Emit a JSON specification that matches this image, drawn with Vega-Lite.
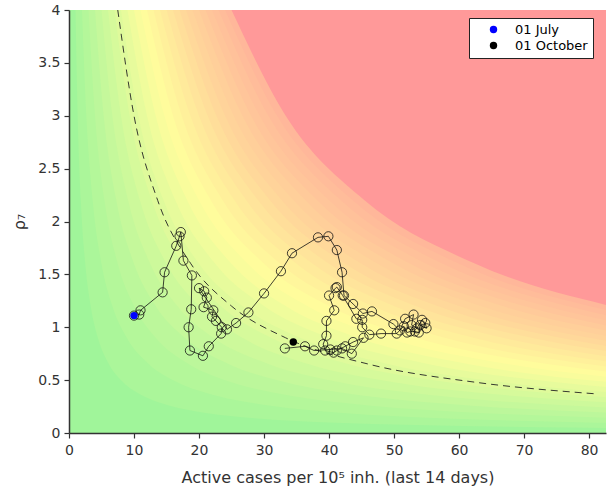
{
  "$schema": "https://vega.github.io/schema/vega-lite/v6.json",
  "autosize": {"type": "none"},
  "padding": {"left": 69, "top": 10, "right": 1, "bottom": 55},
  "width": 537,
  "height": 423,
  "title": {"text": "Risk diagram", "fontSize": 15, "fontWeight": "bold", "font": "DejaVu Sans", "anchor": "middle", "frame": "group", "offset": 0, "baseline": "bottom", "dy": 2, "color": "#222"},
  "config": {
    "view": {"stroke": null, "fill": "#a0f59a"},
    "axis": {"labelFont": "DejaVu Sans", "labelFontSize": 14, "labelColor": "#333", "titleFont": "DejaVu Sans", "titleFontSize": 16, "titleFontWeight": "normal", "titleColor": "#333", "domainColor": "#333", "domainWidth": 1.5, "tickColor": "#333", "tickSize": 5, "tickWidth": 1.2, "grid": false}
  },
  "datasets": {
    "bg": [
      {"c":4,"x":1,"y":4},{"c":4,"x":1.333,"y":3},{"c":4,"x":1.818,"y":2.2},{"c":4,"x":2.5,"y":1.6},{"c":4,"x":3.333,"y":1.2},{"c":4,"x":4.444,"y":0.9},{"c":4,"x":6.154,"y":0.65},{"c":4,"x":8.333,"y":0.48},{"c":4,"x":11.43,"y":0.35},{"c":4,"x":15.38,"y":0.26},{"c":4,"x":21.05,"y":0.19},{"c":4,"x":28.57,"y":0.14},{"c":4,"x":40,"y":0.1},{"c":4,"x":53.33,"y":0.075},{"c":4,"x":72.73,"y":0.055},{"c":4,"x":83,"y":0.0482},
      {"c":8,"x":2,"y":4},{"c":8,"x":2.667,"y":3},{"c":8,"x":3.636,"y":2.2},{"c":8,"x":5,"y":1.6},{"c":8,"x":6.667,"y":1.2},{"c":8,"x":8.889,"y":0.9},{"c":8,"x":12.31,"y":0.65},{"c":8,"x":16.67,"y":0.48},{"c":8,"x":22.86,"y":0.35},{"c":8,"x":30.77,"y":0.26},{"c":8,"x":42.11,"y":0.19},{"c":8,"x":57.14,"y":0.14},{"c":8,"x":80,"y":0.1},{"c":8,"x":83,"y":0.0964},
      {"c":12,"x":3,"y":4},{"c":12,"x":4,"y":3},{"c":12,"x":5.455,"y":2.2},{"c":12,"x":7.5,"y":1.6},{"c":12,"x":10,"y":1.2},{"c":12,"x":13.33,"y":0.9},{"c":12,"x":18.46,"y":0.65},{"c":12,"x":25,"y":0.48},{"c":12,"x":34.29,"y":0.35},{"c":12,"x":46.15,"y":0.26},{"c":12,"x":63.16,"y":0.19},{"c":12,"x":83,"y":0.1446},
      {"c":16,"x":4,"y":4},{"c":16,"x":5.333,"y":3},{"c":16,"x":7.273,"y":2.2},{"c":16,"x":10,"y":1.6},{"c":16,"x":13.33,"y":1.2},{"c":16,"x":17.78,"y":0.9},{"c":16,"x":24.62,"y":0.65},{"c":16,"x":33.33,"y":0.48},{"c":16,"x":45.71,"y":0.35},{"c":16,"x":61.54,"y":0.26},{"c":16,"x":83,"y":0.1928},
      {"c":20,"x":5,"y":4},{"c":20,"x":6.667,"y":3},{"c":20,"x":9.091,"y":2.2},{"c":20,"x":12.5,"y":1.6},{"c":20,"x":16.67,"y":1.2},{"c":20,"x":22.22,"y":0.9},{"c":20,"x":30.77,"y":0.65},{"c":20,"x":41.67,"y":0.48},{"c":20,"x":57.14,"y":0.35},{"c":20,"x":76.92,"y":0.26},{"c":20,"x":83,"y":0.241},
      {"c":24,"x":6,"y":4},{"c":24,"x":8,"y":3},{"c":24,"x":10.91,"y":2.2},{"c":24,"x":15,"y":1.6},{"c":24,"x":20,"y":1.2},{"c":24,"x":26.67,"y":0.9},{"c":24,"x":36.92,"y":0.65},{"c":24,"x":50,"y":0.48},{"c":24,"x":68.57,"y":0.35},{"c":24,"x":83,"y":0.2892},
      {"c":28,"x":7,"y":4},{"c":28,"x":9.333,"y":3},{"c":28,"x":12.73,"y":2.2},{"c":28,"x":17.5,"y":1.6},{"c":28,"x":23.33,"y":1.2},{"c":28,"x":31.11,"y":0.9},{"c":28,"x":43.08,"y":0.65},{"c":28,"x":58.33,"y":0.48},{"c":28,"x":80,"y":0.35},{"c":28,"x":83,"y":0.3373},
      {"c":32,"x":8,"y":4},{"c":32,"x":10.67,"y":3},{"c":32,"x":14.55,"y":2.2},{"c":32,"x":20,"y":1.6},{"c":32,"x":26.67,"y":1.2},{"c":32,"x":35.56,"y":0.9},{"c":32,"x":49.23,"y":0.65},{"c":32,"x":66.67,"y":0.48},{"c":32,"x":83,"y":0.3855},
      {"c":36,"x":9,"y":4},{"c":36,"x":12,"y":3},{"c":36,"x":16.36,"y":2.2},{"c":36,"x":22.5,"y":1.6},{"c":36,"x":30,"y":1.2},{"c":36,"x":40,"y":0.9},{"c":36,"x":55.38,"y":0.65},{"c":36,"x":75,"y":0.48},{"c":36,"x":83,"y":0.4337},
      {"c":40,"x":10,"y":4},{"c":40,"x":13.33,"y":3},{"c":40,"x":18.18,"y":2.2},{"c":40,"x":25,"y":1.6},{"c":40,"x":33.33,"y":1.2},{"c":40,"x":44.44,"y":0.9},{"c":40,"x":61.54,"y":0.65},{"c":40,"x":83,"y":0.4819},
      {"c":44,"x":11,"y":4},{"c":44,"x":14.67,"y":3},{"c":44,"x":20,"y":2.2},{"c":44,"x":27.5,"y":1.6},{"c":44,"x":36.67,"y":1.2},{"c":44,"x":48.89,"y":0.9},{"c":44,"x":67.69,"y":0.65},{"c":44,"x":83,"y":0.5301},
      {"c":48,"x":12,"y":4},{"c":48,"x":16,"y":3},{"c":48,"x":21.82,"y":2.2},{"c":48,"x":30,"y":1.6},{"c":48,"x":40,"y":1.2},{"c":48,"x":53.33,"y":0.9},{"c":48,"x":73.85,"y":0.65},{"c":48,"x":83,"y":0.5783},
      {"c":52,"x":13,"y":4},{"c":52,"x":17.33,"y":3},{"c":52,"x":23.64,"y":2.2},{"c":52,"x":32.5,"y":1.6},{"c":52,"x":43.33,"y":1.2},{"c":52,"x":57.78,"y":0.9},{"c":52,"x":80,"y":0.65},{"c":52,"x":83,"y":0.6265},
      {"c":56,"x":14,"y":4},{"c":56,"x":18.67,"y":3},{"c":56,"x":25.45,"y":2.2},{"c":56,"x":35,"y":1.6},{"c":56,"x":46.67,"y":1.2},{"c":56,"x":62.22,"y":0.9},{"c":56,"x":83,"y":0.6747},
      {"c":60,"x":15,"y":4},{"c":60,"x":20,"y":3},{"c":60,"x":27.27,"y":2.2},{"c":60,"x":37.5,"y":1.6},{"c":60,"x":50,"y":1.2},{"c":60,"x":66.67,"y":0.9},{"c":60,"x":83,"y":0.7229},
      {"c":64,"x":16,"y":4},{"c":64,"x":21.33,"y":3},{"c":64,"x":29.09,"y":2.2},{"c":64,"x":40,"y":1.6},{"c":64,"x":53.33,"y":1.2},{"c":64,"x":71.11,"y":0.9},{"c":64,"x":83,"y":0.7711},
      {"c":68,"x":17,"y":4},{"c":68,"x":22.67,"y":3},{"c":68,"x":30.91,"y":2.2},{"c":68,"x":42.5,"y":1.6},{"c":68,"x":56.67,"y":1.2},{"c":68,"x":75.56,"y":0.9},{"c":68,"x":83,"y":0.8193},
      {"c":72,"x":18,"y":4},{"c":72,"x":24,"y":3},{"c":72,"x":32.73,"y":2.2},{"c":72,"x":45,"y":1.6},{"c":72,"x":60,"y":1.2},{"c":72,"x":80,"y":0.9},{"c":72,"x":83,"y":0.8675},
      {"c":76,"x":19,"y":4},{"c":76,"x":25.33,"y":3},{"c":76,"x":34.55,"y":2.2},{"c":76,"x":47.5,"y":1.6},{"c":76,"x":63.33,"y":1.2},{"c":76,"x":83,"y":0.9157},
      {"c":80,"x":20,"y":4},{"c":80,"x":26.67,"y":3},{"c":80,"x":36.36,"y":2.2},{"c":80,"x":50,"y":1.6},{"c":80,"x":66.67,"y":1.2},{"c":80,"x":83,"y":0.9639},
      {"c":84,"x":21,"y":4},{"c":84,"x":28,"y":3},{"c":84,"x":38.18,"y":2.2},{"c":84,"x":52.5,"y":1.6},{"c":84,"x":70,"y":1.2},{"c":84,"x":83,"y":1.012},
      {"c":88,"x":22,"y":4},{"c":88,"x":29.33,"y":3},{"c":88,"x":40,"y":2.2},{"c":88,"x":55,"y":1.6},{"c":88,"x":73.33,"y":1.2},{"c":88,"x":83,"y":1.06},
      {"c":92,"x":23,"y":4},{"c":92,"x":30.67,"y":3},{"c":92,"x":41.82,"y":2.2},{"c":92,"x":57.5,"y":1.6},{"c":92,"x":76.67,"y":1.2},{"c":92,"x":83,"y":1.108},
      {"c":96,"x":24,"y":4},{"c":96,"x":32,"y":3},{"c":96,"x":43.64,"y":2.2},{"c":96,"x":60,"y":1.6},{"c":96,"x":80,"y":1.2},{"c":96,"x":83,"y":1.157},
      {"c":100,"x":25,"y":4},{"c":100,"x":33.33,"y":3},{"c":100,"x":45.45,"y":2.2},{"c":100,"x":62.5,"y":1.6},{"c":100,"x":83,"y":1.205}
    ],
    "epg30": [
      {"x":7.5,"y":4},{"x":10,"y":3},{"x":13.64,"y":2.2},{"x":18.75,"y":1.6},{"x":25,"y":1.2},{"x":33.33,"y":0.9},{"x":46.15,"y":0.65},{"x":62.5,"y":0.48},{"x":81,"y":0.3704}
    ],
    "traj": [
      {"d":1,"x":10.0,"y":1.11},{"d":2,"x":10.8,"y":1.12},{"d":3,"x":11.0,"y":1.16},{"d":4,"x":14.4,"y":1.33},{"d":5,"x":14.7,"y":1.52},
      {"d":6,"x":16.5,"y":1.77},{"d":7,"x":17.0,"y":1.86},{"d":8,"x":17.2,"y":1.9},{"d":9,"x":17.6,"y":1.63},{"d":10,"x":18.9,"y":1.49},
      {"d":11,"x":18.8,"y":1.17},{"d":12,"x":18.4,"y":1.0},{"d":13,"x":18.6,"y":0.78},{"d":14,"x":20.6,"y":0.73},{"d":15,"x":21.5,"y":0.82},
      {"d":16,"x":23.4,"y":0.94},{"d":17,"x":23.5,"y":1.0},{"d":18,"x":22.6,"y":1.06},{"d":19,"x":22.0,"y":1.1},{"d":20,"x":22.2,"y":1.16},
      {"d":21,"x":20.7,"y":1.19},{"d":22,"x":21.2,"y":1.28},{"d":23,"x":20.8,"y":1.34},{"d":24,"x":20.0,"y":1.37},{"d":25,"x":24.3,"y":0.98},
      {"d":26,"x":25.7,"y":1.04},{"d":27,"x":27.6,"y":1.14},{"d":28,"x":30.0,"y":1.32},{"d":29,"x":32.6,"y":1.53},{"d":30,"x":34.3,"y":1.7},
      {"d":31,"x":38.3,"y":1.85},{"d":32,"x":39.9,"y":1.86},{"d":33,"x":41.2,"y":1.73},{"d":34,"x":42.0,"y":1.52},{"d":35,"x":42.3,"y":1.3},
      {"d":36,"x":43.7,"y":1.22},{"d":37,"x":45.2,"y":1.13},{"d":38,"x":46.6,"y":1.15},{"d":39,"x":49.9,"y":1.03},{"d":40,"x":50.9,"y":0.97},
      {"d":41,"x":51.7,"y":1.08},{"d":42,"x":53.0,"y":1.12},{"d":43,"x":52.7,"y":1.02},{"d":44,"x":53.5,"y":0.99},{"d":45,"x":54.3,"y":1.07},
      {"d":46,"x":54.8,"y":1.04},{"d":47,"x":55.0,"y":0.99},{"d":48,"x":54.0,"y":1.02},{"d":49,"x":53.8,"y":0.95},{"d":50,"x":53.2,"y":0.96},
      {"d":51,"x":52.5,"y":0.96},{"d":52,"x":52.0,"y":0.95},{"d":53,"x":51.5,"y":1.01},{"d":54,"x":50.4,"y":0.94},{"d":55,"x":48.0,"y":0.94},
      {"d":56,"x":46.2,"y":0.93},{"d":57,"x":45.1,"y":1.0},{"d":58,"x":45.1,"y":1.07},{"d":59,"x":44.2,"y":1.08},{"d":60,"x":42.1,"y":1.3},
      {"d":61,"x":41.2,"y":1.38},{"d":62,"x":41.0,"y":1.37},{"d":63,"x":40.0,"y":1.3},{"d":64,"x":40.8,"y":1.16},{"d":65,"x":39.6,"y":1.06},
      {"d":66,"x":39.6,"y":0.92},{"d":67,"x":39.1,"y":0.84},{"d":68,"x":39.4,"y":0.78},{"d":69,"x":40.7,"y":0.76},{"d":70,"x":41.2,"y":0.78},
      {"d":71,"x":42.5,"y":0.82},{"d":72,"x":43.7,"y":0.86},{"d":73,"x":45.3,"y":0.9},{"d":74,"x":43.5,"y":0.75},{"d":75,"x":42.0,"y":0.8},
      {"d":76,"x":40.2,"y":0.79},{"d":77,"x":37.7,"y":0.78},{"d":78,"x":36.3,"y":0.82},{"d":79,"x":33.2,"y":0.8}
    ],
    "dates": [
      {"label":"01 July","x":10.0,"y":1.11},
      {"label":"01 October","x":34.5,"y":0.86}
    ]
  },
  "layer": [
    {
      "data": {"name": "bg"},
      "mark": {"type": "area", "interpolate": "monotone", "clip": true},
      "encoding": {
        "x": {"field": "x", "type": "quantitative", "scale": {"domain": [0, 82.6], "nice": false, "zero": false},
              "axis": {"values": [0,10,20,30,40,50,60,70,80], "title": "Active cases per 10⁵ inh. (last 14 days)", "labelPadding": 5, "titlePadding": 12, "labelFlush": false}},
        "y": {"field": "y", "type": "quantitative", "scale": {"domain": [0, 4], "nice": false},
              "axis": {"values": [0,0.5,1,1.5,2,2.5,3,3.5,4], "format": "~g", "title": "ρ₇", "labelPadding": 4, "titlePadding": 10, "labelFlush": false}},
        "y2": {"datum": 4},
        "color": {"field": "c", "type": "quantitative", "legend": null,
                  "scale": {"domain": [-2, 43, 68, 97.9, 98], "range": ["#9ef59a", "#fffd9c", "#ffd89a", "#ffb59a", "#ff9999"], "interpolate": "rgb", "clamp": true}}
      }
    },
    {
      "data": {"name": "epg30"},
      "mark": {"type": "line", "interpolate": "monotone", "color": "#222", "strokeWidth": 0.9, "strokeDash": [7, 5], "clip": true},
      "encoding": {
        "x": {"field": "x", "type": "quantitative"},
        "y": {"field": "y", "type": "quantitative"}
      }
    },
    {
      "mark": {"type": "rule", "color": "#333333", "opacity": 0.4, "strokeWidth": 2, "strokeDash": [9, 6]},
      "encoding": {"y": {"datum": 1}}
    },
    {
      "data": {"name": "traj"},
      "mark": {"type": "line", "color": "#111", "strokeWidth": 0.8},
      "encoding": {
        "x": {"field": "x", "type": "quantitative"},
        "y": {"field": "y", "type": "quantitative"},
        "order": {"field": "d", "type": "quantitative"}
      }
    },
    {
      "data": {"name": "traj"},
      "mark": {"type": "point", "shape": "circle", "filled": false, "color": "#111", "size": 85, "strokeWidth": 0.8, "opacity": 1},
      "encoding": {
        "x": {"field": "x", "type": "quantitative"},
        "y": {"field": "y", "type": "quantitative"}
      }
    },
    {
      "data": {"name": "dates"},
      "mark": {"type": "circle", "size": 55, "opacity": 1},
      "encoding": {
        "x": {"field": "x", "type": "quantitative"},
        "y": {"field": "y", "type": "quantitative"},
        "color": {"field": "label", "type": "nominal",
                  "scale": {"domain": ["01 July", "01 October"], "range": ["#0000ff", "#000000"]},
                  "legend": {"title": null, "orient": "none", "legendX": 400, "legendY": 8, "fillColor": "white", "strokeColor": "#222", "padding": 5, "symbolOffset": 13, "labelOffset": 15, "symbolType": "circle", "symbolSize": 55, "symbolStrokeWidth": 0, "labelFontSize": 13, "labelFont": "DejaVu Sans", "labelColor": "#000", "rowPadding": 2, "cornerRadius": 0}}
      }
    }
  ],
  "resolve": {"scale": {"color": "independent"}, "legend": {"color": "independent"}}
}
